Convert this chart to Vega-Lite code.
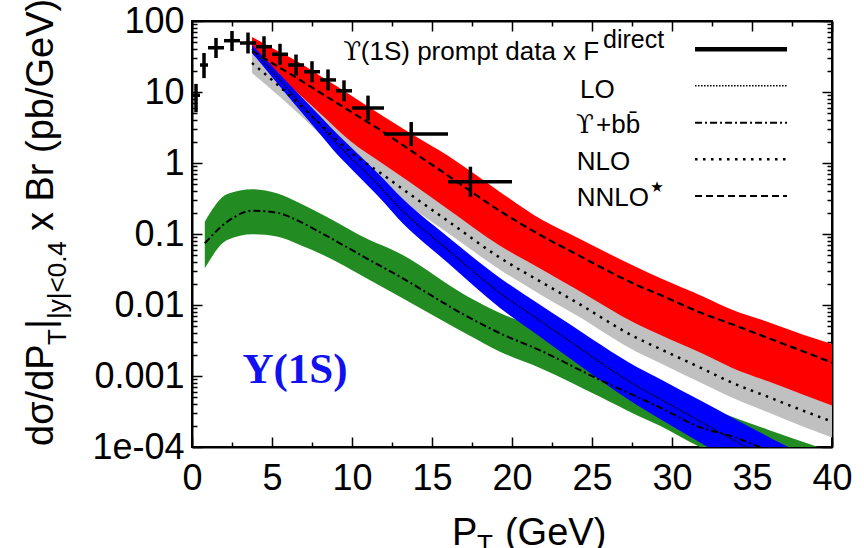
{
"$schema": "https://vega.github.io/schema/vega-lite/v6.json",
"width": 640, "height": 426,
"autosize": {"type": "none"},
"padding": {"left": 192, "top": 21, "right": 32, "bottom": 101},
"background": "white",
"config": {"view": {"stroke": "black", "strokeWidth": 2}, "font": "Liberation Sans"},
"datasets": {
"bands": [
{"s":"bb","pt":0.8,"lo":0.033,"mid":0.074,"hi":0.149},
{"s":"bb","pt":2.2,"lo":0.082,"mid":0.149,"hi":0.366},
{"s":"bb","pt":3.8,"lo":0.099,"mid":0.213,"hi":0.427},
{"s":"bb","pt":5.3,"lo":0.092,"mid":0.2,"hi":0.374},
{"s":"bb","pt":6.75,"lo":0.07,"mid":0.149,"hi":0.27},
{"s":"bb","pt":8.2,"lo":0.0506,"mid":0.1,"hi":0.185},
{"s":"bb","pt":11.1,"lo":0.0225,"mid":0.043,"hi":0.082},
{"s":"bb","pt":12.8,"lo":0.0138,"mid":0.0265,"hi":0.056},
{"s":"bb","pt":17.25,"lo":0.0038,"mid":0.0068,"hi":0.0131},
{"s":"bb","pt":19.25,"lo":0.0022,"mid":0.004,"hi":0.0077},
{"s":"bb","pt":21.75,"lo":0.0013,"mid":0.0023,"hi":0.0047},
{"s":"bb","pt":25.5,"lo":0.00051,"mid":0.00088,"hi":0.00158},
{"s":"bb","pt":27.8,"lo":0.00028,"mid":0.00051,"hi":0.00094},
{"s":"bb","pt":29.25,"lo":0.0002,"mid":0.00036,"hi":0.00064},
{"s":"bb","pt":31.75,"lo":0.0001,"mid":0.00019,"hi":0.00039},
{"s":"bb","pt":33.8,"lo":0.000065,"mid":0.00014,"hi":0.000265},
{"s":"bb","pt":36,"lo":0.000042,"mid":0.00009,"hi":0.000175},
{"s":"bb","pt":40,"lo":0.00002,"mid":0.000045,"hi":0.000086},
{"s":"NNLO","pt":3.75,"lo":25.6,"mid":37.7,"hi":59.6},
{"s":"NNLO","pt":5,"lo":14.8,"mid":25.6,"hi":41.7},
{"s":"NNLO","pt":6.75,"lo":6.56,"mid":14.8,"hi":25.6},
{"s":"NNLO","pt":8,"lo":3.57,"mid":9.84,"hi":16.9},
{"s":"NNLO","pt":9.9,"lo":1.43,"mid":5.33,"hi":9.08},
{"s":"NNLO","pt":12,"lo":0.667,"mid":2.7,"hi":4.48},
{"s":"NNLO","pt":13.6,"lo":0.366,"mid":1.54,"hi":2.66},
{"s":"NNLO","pt":16,"lo":0.152,"mid":0.665,"hi":1.26},
{"s":"NNLO","pt":19.25,"lo":0.0463,"mid":0.211,"hi":0.391},
{"s":"NNLO","pt":21.9,"lo":0.0206,"mid":0.093,"hi":0.157},
{"s":"NNLO","pt":24,"lo":0.011,"mid":0.0523,"hi":0.0908},
{"s":"NNLO","pt":27.8,"lo":0.00343,"mid":0.0191,"hi":0.0339},
{"s":"NNLO","pt":29.25,"lo":0.00241,"mid":0.0139,"hi":0.024},
{"s":"NNLO","pt":32,"lo":0.00124,"mid":0.00746,"hi":0.013},
{"s":"NNLO","pt":33.8,"lo":0.000796,"mid":0.00531,"hi":0.0085},
{"s":"NNLO","pt":36,"lo":0.000509,"mid":0.00343,"hi":0.00577},
{"s":"NNLO","pt":38.25,"lo":0.000321,"mid":0.0022,"hi":0.00378},
{"s":"NNLO","pt":40,"lo":0.000228,"mid":0.00154,"hi":0.00282},
{"s":"NLO","pt":3.75,"lo":18.5,"mid":25.6,"hi":35.4},
{"s":"NLO","pt":5,"lo":10.7,"mid":14.8,"hi":20.5},
{"s":"NLO","pt":6.75,"lo":4.74,"mid":6.56,"hi":9.07},
{"s":"NLO","pt":8,"lo":2.54,"mid":3.57,"hi":5.02},
{"s":"NLO","pt":9.9,"lo":1.0,"mid":1.43,"hi":2.04},
{"s":"NLO","pt":12,"lo":0.467,"mid":0.667,"hi":0.953},
{"s":"NLO","pt":13.6,"lo":0.248,"mid":0.366,"hi":0.54},
{"s":"NLO","pt":16,"lo":0.103,"mid":0.152,"hi":0.224},
{"s":"NLO","pt":19.25,"lo":0.0314,"mid":0.0463,"hi":0.0683},
{"s":"NLO","pt":21.9,"lo":0.0135,"mid":0.0206,"hi":0.0314},
{"s":"NLO","pt":24,"lo":0.00721,"mid":0.011,"hi":0.0168},
{"s":"NLO","pt":27.8,"lo":0.00218,"mid":0.00343,"hi":0.0054},
{"s":"NLO","pt":29.25,"lo":0.00153,"mid":0.00241,"hi":0.0038},
{"s":"NLO","pt":32,"lo":0.000763,"mid":0.00124,"hi":0.00202},
{"s":"NLO","pt":33.8,"lo":0.00049,"mid":0.000796,"hi":0.00129},
{"s":"NLO","pt":36,"lo":0.000308,"mid":0.000509,"hi":0.000841},
{"s":"NLO","pt":38.25,"lo":0.000191,"mid":0.000321,"hi":0.000539},
{"s":"NLO","pt":40,"lo":0.000136,"mid":0.000228,"hi":0.000383},
{"s":"LO","pt":3.75,"lo":35.5,"mid":40.4,"hi":46.0},
{"s":"LO","pt":5,"lo":16.3,"mid":19.5,"hi":23.3},
{"s":"LO","pt":6.3,"lo":7.24,"mid":9.08,"hi":11.4},
{"s":"LO","pt":8,"lo":2.56,"mid":3.43,"hi":4.59},
{"s":"LO","pt":8.83,"lo":1.53,"mid":2.11,"hi":2.92},
{"s":"LO","pt":9.9,"lo":0.853,"mid":1.2,"hi":1.69},
{"s":"LO","pt":12,"lo":0.278,"mid":0.404,"hi":0.587},
{"s":"LO","pt":12.8,"lo":0.173,"mid":0.256,"hi":0.378},
{"s":"LO","pt":16,"lo":0.0391,"mid":0.0596,"hi":0.0909},
{"s":"LO","pt":19.25,"lo":0.0091,"mid":0.0148,"hi":0.0241},
{"s":"LO","pt":21.75,"lo":0.00358,"mid":0.00602,"hi":0.0101},
{"s":"LO","pt":23.5,"lo":0.00185,"mid":0.00321,"hi":0.00557},
{"s":"LO","pt":27.8,"lo":0.00039,"mid":0.000723,"hi":0.00134},
{"s":"LO","pt":29.25,"lo":0.000248,"mid":0.000475,"hi":0.000908},
{"s":"LO","pt":31.75,"lo":0.000116,"mid":0.00023,"hi":0.000454},
{"s":"LO","pt":33.8,"lo":0.000062,"mid":0.000126,"hi":0.000257},
{"s":"LO","pt":36,"lo":0.0000337,"mid":0.0000687,"hi":0.00014},
{"s":"LO","pt":40,"lo":0.0000114,"mid":0.000024,"hi":0.0000506}
],
"points": [
{"pt":0.25,"xlo":0,"xhi":0.5,"y":9,"ylo":5.2,"yhi":13},
{"pt":0.75,"xlo":0.5,"xhi":1,"y":24,"ylo":15.7,"yhi":35.4},
{"pt":1.5,"xlo":1,"xhi":2,"y":42,"ylo":30.1,"yhi":57.7},
{"pt":2.5,"xlo":2,"xhi":3,"y":52.8,"ylo":37.7,"yhi":72.3},
{"pt":3.5,"xlo":3,"xhi":4,"y":49,"ylo":34.9,"yhi":68.8},
{"pt":4.5,"xlo":4,"xhi":5,"y":43.5,"ylo":31,"yhi":61},
{"pt":5.5,"xlo":5,"xhi":6,"y":34,"ylo":24.2,"yhi":47.8},
{"pt":6.5,"xlo":6,"xhi":7,"y":24,"ylo":17.1,"yhi":33.7},
{"pt":7.5,"xlo":7,"xhi":8,"y":19.3,"ylo":13.7,"yhi":27.1},
{"pt":8.5,"xlo":8,"xhi":9,"y":14.8,"ylo":10.5,"yhi":20.8},
{"pt":9.5,"xlo":9,"xhi":10,"y":10.4,"ylo":7.4,"yhi":14.6},
{"pt":11,"xlo":10,"xhi":12,"y":5.95,"ylo":3.97,"yhi":8.9},
{"pt":13.7,"xlo":12,"xhi":16,"y":2.56,"ylo":1.73,"yhi":3.78},
{"pt":17.4,"xlo":16,"xhi":20,"y":0.545,"ylo":0.335,"yhi":0.886}
],
"legendLines": [
{"s":"data","x1":31.44,"x2":37.19,"y":39.9},
{"s":"LO","x1":31.44,"x2":37.19,"y":12.2},
{"s":"bb","x1":31.44,"x2":37.19,"y":3.7},
{"s":"NLO","x1":31.44,"x2":37.19,"y":1.127},
{"s":"NNLO","x1":31.44,"x2":37.19,"y":0.343}
],
"legendLeft": [
{"t":"LO","x":24.25,"y":10.7},
{"t":"+bb̄","x":25.25,"y":3.43},
{"t":"NLO","x":24.04,"y":1.03},
{"t":"NNLO","x":24.04,"y":0.321}
],
"upsilon": [
{"t":"ϒ","x":24.0,"y":3.43},
{"t":"ϒ","x":9.45,"y":36.6}
],
"legendLeft2": [{"t":"(1S) prompt data x F","x":10.55,"y":36.6}],
"sup": [{"t":"direct","x":25.69,"y":54}],
"star": [{"t":"★","x":29.06,"y":0.463}],
"label": [{"t":"Υ(1S)","x":6.44,"y":0.00122}],
"ytitleBig": [
{"t":"dσ/dP","x":-9.375,"y":0.0001033},
{"t":"|","x":-9.375,"y":0.00459},
{"t":"x Br (pb/GeV)","x":-9.375,"y":0.11}
],
"ytitleSub": [
{"t":"T","x":-8.375,"y":0.002735},
{"t":"|y|<0.4","x":-8.375,"y":0.00635}
],
"xtitleBig": [
{"t":"P","x":16.25,"y":0.00000417},
{"t":"(GeV)","x":19.56,"y":0.00000417}
],
"xtitleSub": [{"t":"T","x":17.81,"y":0.00000321}]
},
"resolve": {"axis": {"x": "independent", "y": "independent"}},
"layer": [
{
"data": {"name": "bands"},
"transform": [{"filter": "datum.s === 'bb'"}],
"mark": {"type": "area", "color": "#228b22", "clip": true, "opacity": 1, "interpolate": "monotone"},
"encoding": {
"x": {"field": "pt", "type": "quantitative", "scale": {"domain": [0, 40], "nice": false, "zero": false},
"axis": {"orient": "bottom", "title": null, "grid": false,
"values": [0,2.5,5,7.5,10,12.5,15,17.5,20,22.5,25,27.5,30,32.5,35,37.5,40],
"labelExpr": "datum.value % 5 === 0 ? format(datum.value, 'd') : ''",
"labelFont": "Liberation Sans", "labelFontSize": 36, "labelColor": "black", "labelPadding": 24,
"labelFlush": false, "labelOverlap": false,
"tickColor": "black", "tickWidth": 1.5,
"tickSize": {"condition": {"test": "datum.value % 5 === 0", "value": -10}, "value": -5},
"domainColor": "black", "domainWidth": 2}},
"y": {"field": "lo", "type": "quantitative", "scale": {"type": "log", "domain": [0.0001, 100], "nice": false},
"axis": {"orient": "left", "title": null, "grid": false,
"values": [0.0001,0.0002,0.0003,0.0004,0.0005,0.0006,0.0007,0.0008,0.0009,0.001,0.002,0.003,0.004,0.005,0.006,0.007,0.008,0.009,0.01,0.02,0.03,0.04,0.05,0.06,0.07,0.08,0.09,0.1,0.2,0.3,0.4,0.5,0.6,0.7,0.8,0.9,1,2,3,4,5,6,7,8,9,10,20,30,40,50,60,70,80,90,100],
"labelExpr": "abs(log(datum.value)/LN10 - round(log(datum.value)/LN10)) < 0.001 ? (datum.value < 0.0005 ? '1e-04' : format(datum.value, '~g')) : ''",
"labelFont": "Liberation Sans", "labelFontSize": 36, "labelColor": "black", "labelPadding": 18,
"labelFlush": false, "labelOverlap": false,
"tickColor": "black", "tickWidth": 1.5,
"tickSize": {"condition": {"test": "abs(log(datum.value)/LN10 - round(log(datum.value)/LN10)) < 0.001", "value": -10}, "value": -5},
"domainColor": "black", "domainWidth": 2}},
"y2": {"field": "hi"}
}
},
{
"data": {"name": "bands"},
"transform": [{"filter": "datum.s === 'NNLO'"}],
"mark": {"type": "area", "color": "#ff0000", "clip": true, "opacity": 1, "interpolate": "monotone"},
"encoding": {
"x": {"field": "pt", "type": "quantitative",
"axis": {"orient": "top", "title": null, "grid": false, "labels": false,
"values": [0,2.5,5,7.5,10,12.5,15,17.5,20,22.5,25,27.5,30,32.5,35,37.5,40],
"tickColor": "black", "tickWidth": 1.5,
"tickSize": {"condition": {"test": "datum.value % 5 === 0", "value": -10}, "value": -5},
"domainColor": "black", "domainWidth": 2}},
"y": {"field": "lo", "type": "quantitative",
"axis": {"orient": "right", "title": null, "grid": false, "labels": false,
"values": [0.0001,0.0002,0.0003,0.0004,0.0005,0.0006,0.0007,0.0008,0.0009,0.001,0.002,0.003,0.004,0.005,0.006,0.007,0.008,0.009,0.01,0.02,0.03,0.04,0.05,0.06,0.07,0.08,0.09,0.1,0.2,0.3,0.4,0.5,0.6,0.7,0.8,0.9,1,2,3,4,5,6,7,8,9,10,20,30,40,50,60,70,80,90,100],
"tickColor": "black", "tickWidth": 1.5,
"tickSize": {"condition": {"test": "abs(log(datum.value)/LN10 - round(log(datum.value)/LN10)) < 0.001", "value": -10}, "value": -5},
"domainColor": "black", "domainWidth": 2}},
"y2": {"field": "hi"}
}
},
{
"data": {"name": "bands"},
"transform": [{"filter": "datum.s === 'NLO'"}],
"mark": {"type": "area", "color": "#c0c0c0", "clip": true, "opacity": 1, "interpolate": "monotone"},
"encoding": {
"x": {"field": "pt", "type": "quantitative", "axis": null},
"y": {"field": "lo", "type": "quantitative", "axis": null},
"y2": {"field": "hi"}
}
},
{
"data": {"name": "bands"},
"transform": [{"filter": "datum.s === 'LO'"}],
"mark": {"type": "area", "color": "#0000ff", "clip": true, "opacity": 1, "interpolate": "monotone"},
"encoding": {
"x": {"field": "pt", "type": "quantitative", "axis": null},
"y": {"field": "lo", "type": "quantitative", "axis": null},
"y2": {"field": "hi"}
}
},
{
"data": {"name": "bands"},
"transform": [{"filter": "datum.s === 'bb'"}],
"mark": {"type": "line", "color": "black", "clip": true, "strokeWidth": 2, "strokeDash": [7, 3, 2, 3], "interpolate": "monotone"},
"encoding": {"x": {"field": "pt", "type": "quantitative", "axis": null}, "y": {"field": "mid", "type": "quantitative", "axis": null}}
},
{
"data": {"name": "bands"},
"transform": [{"filter": "datum.s === 'NNLO'"}],
"mark": {"type": "line", "color": "black", "clip": true, "strokeWidth": 2.2, "strokeDash": [7, 4], "interpolate": "monotone"},
"encoding": {"x": {"field": "pt", "type": "quantitative", "axis": null}, "y": {"field": "mid", "type": "quantitative", "axis": null}}
},
{
"data": {"name": "bands"},
"transform": [{"filter": "datum.s === 'NLO'"}],
"mark": {"type": "line", "color": "black", "clip": true, "strokeWidth": 2.5, "strokeDash": [2.5, 5.5], "interpolate": "monotone"},
"encoding": {"x": {"field": "pt", "type": "quantitative", "axis": null}, "y": {"field": "mid", "type": "quantitative", "axis": null}}
},
{
"data": {"name": "bands"},
"transform": [{"filter": "datum.s === 'LO'"}],
"mark": {"type": "line", "color": "black", "clip": true, "strokeWidth": 1.5, "strokeDash": [1.5, 1.5], "interpolate": "monotone"},
"encoding": {"x": {"field": "pt", "type": "quantitative", "axis": null}, "y": {"field": "mid", "type": "quantitative", "axis": null}}
},
{
"data": {"name": "points"},
"mark": {"type": "rule", "color": "black", "strokeWidth": 3.5},
"encoding": {"x": {"field": "xlo", "type": "quantitative", "axis": null}, "x2": {"field": "xhi"}, "y": {"field": "y", "type": "quantitative", "axis": null}}
},
{
"data": {"name": "points"},
"mark": {"type": "rule", "color": "black", "strokeWidth": 3.5},
"encoding": {"x": {"field": "pt", "type": "quantitative", "axis": null}, "y": {"field": "ylo", "type": "quantitative", "axis": null}, "y2": {"field": "yhi"}}
},
{
"data": {"name": "legendLines"},
"transform": [{"filter": "datum.s === 'data'"}],
"mark": {"type": "rule", "color": "black", "strokeWidth": 4.5},
"encoding": {"x": {"field": "x1", "type": "quantitative", "axis": null}, "x2": {"field": "x2"}, "y": {"field": "y", "type": "quantitative", "axis": null}}
},
{
"data": {"name": "legendLines"},
"transform": [{"filter": "datum.s === 'LO'"}],
"mark": {"type": "rule", "color": "black", "strokeWidth": 1.5, "strokeDash": [1.5, 1.5]},
"encoding": {"x": {"field": "x1", "type": "quantitative", "axis": null}, "x2": {"field": "x2"}, "y": {"field": "y", "type": "quantitative", "axis": null}}
},
{
"data": {"name": "legendLines"},
"transform": [{"filter": "datum.s === 'bb'"}],
"mark": {"type": "rule", "color": "black", "strokeWidth": 2, "strokeDash": [7, 3, 2, 3]},
"encoding": {"x": {"field": "x1", "type": "quantitative", "axis": null}, "x2": {"field": "x2"}, "y": {"field": "y", "type": "quantitative", "axis": null}}
},
{
"data": {"name": "legendLines"},
"transform": [{"filter": "datum.s === 'NLO'"}],
"mark": {"type": "rule", "color": "black", "strokeWidth": 2.5, "strokeDash": [2.5, 5.5]},
"encoding": {"x": {"field": "x1", "type": "quantitative", "axis": null}, "x2": {"field": "x2"}, "y": {"field": "y", "type": "quantitative", "axis": null}}
},
{
"data": {"name": "legendLines"},
"transform": [{"filter": "datum.s === 'NNLO'"}],
"mark": {"type": "rule", "color": "black", "strokeWidth": 2.2, "strokeDash": [7, 4]},
"encoding": {"x": {"field": "x1", "type": "quantitative", "axis": null}, "x2": {"field": "x2"}, "y": {"field": "y", "type": "quantitative", "axis": null}}
},
{
"data": {"name": "legendLeft"},
"mark": {"type": "text", "align": "left", "baseline": "middle", "font": "Liberation Sans", "fontSize": 26, "color": "black"},
"encoding": {"x": {"field": "x", "type": "quantitative", "axis": null}, "y": {"field": "y", "type": "quantitative", "axis": null}, "text": {"field": "t"}}
},
{
"data": {"name": "legendLeft2"},
"mark": {"type": "text", "align": "left", "baseline": "middle", "font": "Liberation Sans", "fontSize": 26, "color": "black"},
"encoding": {"x": {"field": "x", "type": "quantitative", "axis": null}, "y": {"field": "y", "type": "quantitative", "axis": null}, "text": {"field": "t"}}
},
{
"data": {"name": "upsilon"},
"mark": {"type": "text", "align": "left", "baseline": "middle", "font": "DejaVu Serif", "fontSize": 26, "color": "black"},
"encoding": {"x": {"field": "x", "type": "quantitative", "axis": null}, "y": {"field": "y", "type": "quantitative", "axis": null}, "text": {"field": "t"}}
},
{
"data": {"name": "sup"},
"mark": {"type": "text", "align": "left", "baseline": "middle", "font": "Liberation Sans", "fontSize": 25, "color": "black"},
"encoding": {"x": {"field": "x", "type": "quantitative", "axis": null}, "y": {"field": "y", "type": "quantitative", "axis": null}, "text": {"field": "t"}}
},
{
"data": {"name": "star"},
"mark": {"type": "text", "align": "center", "baseline": "middle", "font": "DejaVu Sans", "fontSize": 15, "color": "black"},
"encoding": {"x": {"field": "x", "type": "quantitative", "axis": null}, "y": {"field": "y", "type": "quantitative", "axis": null}, "text": {"field": "t"}}
},
{
"data": {"name": "label"},
"mark": {"type": "text", "align": "center", "baseline": "middle", "font": "Liberation Serif", "fontWeight": "bold", "fontSize": 43, "color": "#1010f0"},
"encoding": {"x": {"field": "x", "type": "quantitative", "axis": null}, "y": {"field": "y", "type": "quantitative", "axis": null}, "text": {"field": "t"}}
},
{
"data": {"name": "ytitleBig"},
"mark": {"type": "text", "align": "left", "baseline": "middle", "angle": 270, "font": "Liberation Sans", "fontSize": 38, "color": "black"},
"encoding": {"x": {"field": "x", "type": "quantitative", "axis": null}, "y": {"field": "y", "type": "quantitative", "axis": null}, "text": {"field": "t"}}
},
{
"data": {"name": "ytitleSub"},
"mark": {"type": "text", "align": "left", "baseline": "middle", "angle": 270, "font": "Liberation Sans", "fontSize": 26, "color": "black"},
"encoding": {"x": {"field": "x", "type": "quantitative", "axis": null}, "y": {"field": "y", "type": "quantitative", "axis": null}, "text": {"field": "t"}}
},
{
"data": {"name": "xtitleBig"},
"mark": {"type": "text", "align": "left", "baseline": "alphabetic", "font": "Liberation Sans", "fontSize": 38, "color": "black"},
"encoding": {"x": {"field": "x", "type": "quantitative", "axis": null}, "y": {"field": "y", "type": "quantitative", "axis": null}, "text": {"field": "t"}}
},
{
"data": {"name": "xtitleSub"},
"mark": {"type": "text", "align": "left", "baseline": "alphabetic", "font": "Liberation Sans", "fontSize": 26, "color": "black"},
"encoding": {"x": {"field": "x", "type": "quantitative", "axis": null}, "y": {"field": "y", "type": "quantitative", "axis": null}, "text": {"field": "t"}}
}
]
}
